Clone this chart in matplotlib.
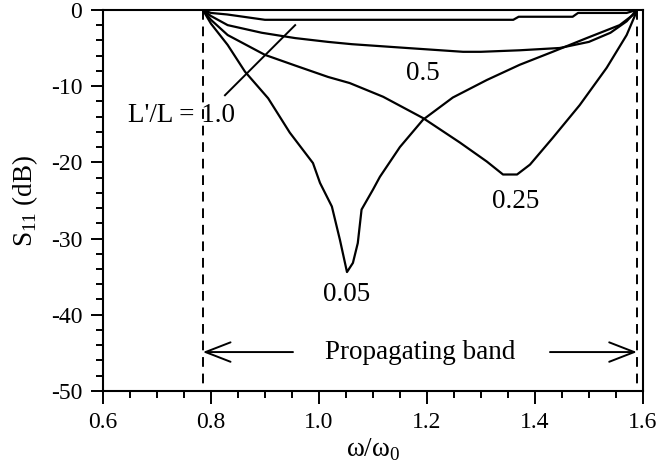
import numpy as np
import matplotlib
matplotlib.use('Agg')
import matplotlib.pyplot as plt

plt.rcParams['font.family'] = ['Liberation Serif', 'DejaVu Serif']
plt.rcParams['mathtext.fontset'] = 'custom'
plt.rcParams['mathtext.rm'] = 'Liberation Serif'
plt.rcParams['axes.unicode_minus'] = False

# band edges
f_lo, f_hi = 0.785, 1.589

# L'/L = 1.0
x10 = [0.785, 0.80, 0.83, 0.87, 0.90, 1.00, 1.20, 1.36, 1.37, 1.47, 1.48, 1.57, 1.589]
y10 = [0.0, -0.4, -0.6, -1.0, -1.3, -1.3, -1.3, -1.3, -0.9, -0.9, -0.4, -0.4, 0.0]

# L'/L = 0.5
x05 = [0.785, 0.80, 0.831, 0.894, 0.956, 1.017, 1.061, 1.163, 1.267, 1.30, 1.372, 1.446, 1.50, 1.54, 1.57, 1.589]
y05 = [0.0, -0.8, -2.0, -3.0, -3.7, -4.2, -4.5, -5.0, -5.5, -5.5, -5.3, -5.0, -4.2, -3.0, -1.5, 0.0]

# L'/L = 0.25
x025 = [0.785, 0.80, 0.831, 0.90, 0.956, 1.017, 1.057, 1.119, 1.193, 1.261, 1.311, 1.341, 1.367,
        1.391, 1.433, 1.483, 1.533, 1.57, 1.585, 1.589]
y025 = [0.0, -1.3, -3.3, -5.9, -7.3, -8.8, -9.6, -11.4, -14.2, -17.4, -19.9, -21.6, -21.6,
        -20.3, -16.8, -12.5, -7.6, -3.3, -0.8, 0.0]

# L'/L = 0.05
x005 = [0.785, 0.80, 0.831, 0.863, 0.906, 0.946, 0.989, 1.002, 1.024, 1.039, 1.052, 1.063, 1.072,
        1.079, 1.10, 1.113, 1.15, 1.193, 1.248, 1.311, 1.372, 1.433, 1.496, 1.557, 1.581, 1.589]
y005 = [0.0, -1.8, -4.6, -8.1, -11.6, -16.1, -20.1, -22.7, -25.8, -30.2, -34.4, -33.2, -30.6,
        -26.2, -23.6, -21.9, -18.0, -14.4, -11.5, -9.2, -7.2, -5.5, -3.7, -2.0, -0.7, 0.0]

fig = plt.figure(figsize=(6.6, 4.71), dpi=100)
ax = fig.add_axes([0.156, 0.170, 0.818, 0.809])

for xs, ys in [(x10, y10), (x05, y05), (x025, y025), (x005, y005)]:
    ax.plot(xs, ys, color='black', lw=1.6)

# band edges
ax.plot([f_lo, f_lo], [0, -50], color='black', lw=1.4, ls=(0, (5, 3.5)))
ax.plot([f_hi, f_hi], [0, -50], color='black', lw=1.4, ls=(0, (5, 3.5)))

# propagating band arrows
arrow = dict(arrowstyle='->,head_length=0.9,head_width=0.35', lw=1.4, color='black',
             shrinkA=0, shrinkB=0, mutation_scale=20)
ax.annotate('', xy=(f_lo, -44.9), xytext=(0.952, -44.9), arrowprops=arrow)
ax.annotate('', xy=(f_hi, -44.9), xytext=(1.428, -44.9), arrowprops=arrow)
ax.text(1.187, -44.9, 'Propagating band', ha='center', va='center', fontsize=19.5)

# curve labels
ax.plot([0.826, 0.956], [-11.2, -2.0], color='black', lw=1.4)
ax.text(0.745, -13.9, "L'/L = 1.0", ha='center', va='center', fontsize=19.5)
ax.text(1.193, -8.3, '0.5', ha='center', va='center', fontsize=19.5)
ax.text(1.365, -25.2, '0.25', ha='center', va='center', fontsize=19.5)
ax.text(1.052, -37.4, '0.05', ha='center', va='center', fontsize=19.5)

ax.set_xlim(0.6, 1.6)
ax.set_ylim(-50, 0)
ax.set_xticks(np.arange(0.6, 1.61, 0.2))
ax.set_xticks(np.arange(0.6, 1.61, 0.05), minor=True)
ax.set_xticklabels(['0.6', '0.8', '1.0', '1.2', '1.4', '1.6'])
ax.set_yticks(np.arange(-50, 1, 10))
ax.set_yticks(np.arange(-50, 1, 2), minor=True)
ax.tick_params(which='major', direction='out', length=9, width=1.4, labelsize=17, pad=6)
ax.tick_params(which='minor', direction='out', length=5, width=1.4)
ax.tick_params(top=False, right=False, which='both')
for s in ax.spines.values():
    s.set_linewidth(1.5)

ax.set_xlabel(r'ω/ω$_0$', fontsize=19.5, labelpad=3)
ax.set_ylabel(r'S$_{11}$ (dB)', fontsize=19.5, labelpad=8)

fig.savefig('out.png', dpi=100)
